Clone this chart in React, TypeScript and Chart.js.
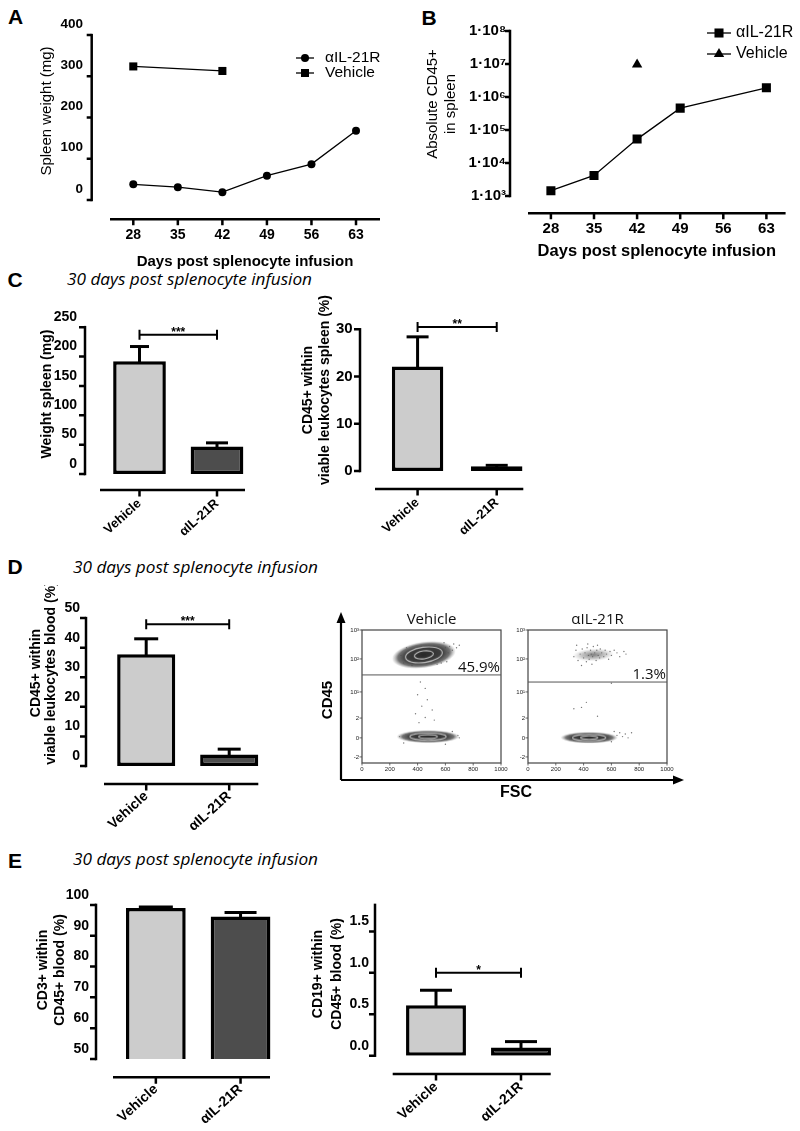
import React, { useEffect, useRef } from 'react';
import { Chart, registerables } from 'chart.js';

Chart.register(...registerables);

const ARIAL = '"Liberation Sans", Arial, Helvetica, sans-serif';
const MYRIAD = '"Open Sans", "Noto Sans", sans-serif';
Chart.defaults.font.family = ARIAL;
Chart.defaults.color = '#000';

// ------------------------------ DATA ------------------------------
const GROUPS = ['Vehicle', 'αIL-21R'];

// Panel A – spleen weight over time
const DAY_TICKS = [28, 35, 42, 49, 56, 63];
const A_DAYS_AIL = [28, 35, 42, 49, 56, 63];
const A_AIL = [38, 31, 19, 59, 87, 168];
const A_DAYS_VEH = [28, 42];
const A_VEH = [324, 313];

// Panel B – absolute CD45+ in spleen (log)
const B_DAYS_AIL = [28, 35, 42, 49, 63];
const B_AIL = [1.45e3, 4.2e3, 5.3e4, 4.6e5, 1.9e6];
const B_DAYS_VEH = [42];
const B_VEH = [9.6e6];
const B_TICKS = [1e3, 1e4, 1e5, 1e6, 1e7, 1e8];
const SUP: Record<number, string> = { 3: '³', 4: '⁴', 5: '⁵', 6: '⁶', 7: '⁷', 8: '⁸' };

// Panel C
const C_WEIGHT = [192, 47];
const C_WEIGHT_SEM = [25, 6];
const C_CD45 = [22.1, 1.0];
const C_CD45_SEM = [6.3, 0.2];

// Panel D
const D_CD45 = [37.8, 3.9];
const D_CD45_SEM = [5.2, 1.8];

// Panel E
const E_CD3 = [99.0, 96.2];
const E_CD3_SEM = [0.3, 1.3];
const E_CD19 = [0.61, 0.1];
const E_CD19_SEM = [0.18, 0.07];
const E_CD19_TICKS = [0, 0.5, 1.0, 1.5];

// Flow cytometry plots (FSC vs CD45)
const FLOW_X_TICKS = [0, 200, 400, 600, 800, 1000];
const FLOW_Y_LABELS = ['-2', '0', '2', '10¹', '10²', '10³'];
const FLOW_Y_POS = [0, 0.75, 1.53, 2.56, 3.86, 5.0];
const VEH_GATE = 3.23;
const AIL_GATE = 2.95;
const VEH_PCT = '45.9%';
const AIL_PCT = '1.3%';
const VEH_POP_FSC = [445, 475];
const VEH_POP_CD45 = [4.02, 0.8];
const VEH_POP_SPREAD_FSC = [230, 225];
const VEH_POP_SPREAD_CD45 = [0.52, 0.25];
const AIL_POP_FSC = [470, 440];
const AIL_POP_CD45 = [4.02, 0.76];
const AIL_POP_SPREAD_FSC = [150, 205];
const AIL_POP_SPREAD_CD45 = [0.25, 0.22];
const VEH_EV_FSC = [420, 455, 400, 470, 430, 505, 385, 455, 520, 410, 600, 630, 650, 660, 680, 620, 590, 700, 570, 610, 540, 300, 320, 280, 360, 270, 690, 700, 650, 300, 600];
const VEH_EV_CD45 = [2.95, 2.7, 2.45, 2.25, 2.0, 1.85, 1.7, 1.55, 1.45, 1.35, 4.3, 4.35, 4.2, 4.45, 4.3, 4.1, 4.5, 4.4, 3.7, 3.75, 3.65, 3.7, 4.3, 4.0, 3.6, 0.8, 0.85, 0.75, 1.0, 0.55, 0.5];
const AIL_EV_FSC = [330, 345, 360, 375, 390, 400, 410, 420, 425, 435, 440, 450, 455, 465, 470, 480, 490, 495, 505, 515, 520, 530, 545, 555, 565, 580, 590, 600, 620, 640, 660, 690, 705, 385, 460, 350, 430, 500, 600, 330, 385, 420, 500, 640, 660, 680, 700, 720, 745, 620, 600];
const AIL_EV_CD45 = [3.95, 4.2, 3.8, 4.05, 4.25, 3.9, 4.1, 3.75, 4.3, 4.0, 3.85, 4.2, 4.05, 3.95, 4.35, 4.1, 3.8, 4.2, 4.0, 3.9, 4.25, 4.1, 3.95, 4.2, 4.05, 3.85, 4.15, 4.0, 4.2, 4.1, 3.95, 4.15, 4.05, 3.6, 3.65, 4.4, 4.45, 4.4, 2.9, 1.9, 1.95, 2.15, 1.6, 0.85, 0.95, 0.8, 0.9, 0.75, 0.95, 1.0, 0.6];

// ------------------------------ STYLE ------------------------------
const LIGHT = '#cccccc';
const DARK = '#4d4d4d';
const VEH_POP_TILT = [-8, 0];
const VEH_POP_DENSE = [true, true];
const AIL_POP_TILT = [-3, 0];
const AIL_POP_DENSE = [false, true];

type Box = { x: number; y: number; w: number; h: number };
type Area = { l: number; t: number; r: number; b: number };

function frame(box: Box, area: Area) {
  return {
    padding: { left: 0, top: area.t - box.y, right: box.x + box.w - area.r, bottom: 0 },
    yw: area.l - box.x,
    xh: box.y + box.h - area.b,
  };
}

function drawMarker(ctx: CanvasRenderingContext2D, style: string, x: number, y: number, r: number) {
  ctx.beginPath();
  if (style === 'circle') ctx.arc(x, y, r, 0, Math.PI * 2);
  else if (style === 'rect') {
    const s = r * Math.SQRT1_2;
    ctx.rect(x - s, y - s, 2 * s, 2 * s);
  } else if (style === 'triangle') {
    ctx.moveTo(x, y - r);
    ctx.lineTo(x + r * Math.sin((2 * Math.PI) / 3), y - r * Math.cos((2 * Math.PI) / 3));
    ctx.lineTo(x + r * Math.sin((4 * Math.PI) / 3), y - r * Math.cos((4 * Math.PI) / 3));
    ctx.closePath();
  }
  ctx.fill();
}

const blobCache = new Map<string, HTMLCanvasElement>();
function blobCanvas(w: number, h: number, tilt: number, dense: boolean) {
  const key = `${w.toFixed(1)}_${h.toFixed(1)}_${tilt}_${dense}`;
  const hit = blobCache.get(key);
  if (hit) return hit;
  const R = Math.ceil(Math.max(w, h) / 2) + 3;
  const c = document.createElement('canvas');
  c.width = 2 * R;
  c.height = 2 * R;
  const g = c.getContext('2d')!;
  g.translate(R, R);
  g.rotate((tilt * Math.PI) / 180);
  const a = w / 2;
  const b = h / 2;
  g.save();
  g.scale(1, b / a);
  const grad = g.createRadialGradient(0, 0, 0, 0, 0, a);
  if (dense) {
    grad.addColorStop(0, 'rgba(40,40,40,1)');
    grad.addColorStop(0.6, 'rgba(58,58,58,0.97)');
    grad.addColorStop(0.82, 'rgba(90,90,90,0.85)');
    grad.addColorStop(1, 'rgba(150,150,150,0.05)');
  } else {
    grad.addColorStop(0, 'rgba(80,80,80,0.75)');
    grad.addColorStop(0.6, 'rgba(120,120,120,0.4)');
    grad.addColorStop(1, 'rgba(170,170,170,0)');
  }
  g.fillStyle = grad;
  g.beginPath();
  g.arc(0, 0, a, 0, Math.PI * 2);
  g.fill();
  g.restore();
  if (dense) {
    g.strokeStyle = 'rgba(205,205,205,0.9)';
    g.lineWidth = 1.1;
    g.beginPath();
    g.ellipse(0, 0, a * 0.58, b * 0.58, 0, 0, Math.PI * 2);
    g.stroke();
    g.beginPath();
    g.ellipse(0, 0, a * 0.3, b * 0.3, 0, 0, Math.PI * 2);
    g.stroke();
  }
  blobCache.set(key, c);
  return c;
}

function drawRotated(ctx: CanvasRenderingContext2D, lines: string[], xs: number[], y: number, font: string) {
  ctx.save();
  ctx.font = font;
  ctx.fillStyle = '#000';
  ctx.textAlign = 'center';
  ctx.textBaseline = 'middle';
  lines.forEach((ln, i) => {
    ctx.save();
    ctx.translate(xs[i], y);
    ctx.rotate(-Math.PI / 2);
    ctx.fillText(ln, 0, 0);
    ctx.restore();
  });
  ctx.restore();
}

// --------------------------- PLUGIN ---------------------------
const prism = {
  id: 'prism',
  afterDatasetsDraw(chart: any, _a: any, o: any) {
    if (!o || !o.origin) return;
    const ctx: CanvasRenderingContext2D = chart.ctx;
    const ys = chart.scales.y;
    const xs = chart.scales.x;
    ctx.save();
    ctx.strokeStyle = '#000';
    ctx.fillStyle = '#000';
    if (o.errors) {
      const meta = chart.getDatasetMeta(0);
      const vals = chart.data.datasets[0].data;
      meta.data.forEach((el: any, i: number) => {
        const top = ys.getPixelForValue(vals[i] + o.errors.sem[i]);
        const base = ys.getPixelForValue(vals[i]);
        ctx.lineWidth = o.errors.lw;
        ctx.beginPath();
        ctx.moveTo(el.x, base + 1);
        ctx.lineTo(el.x, top);
        ctx.stroke();
        const hw = o.errors.caps[i] / 2;
        ctx.beginPath();
        ctx.moveTo(el.x - hw, top);
        ctx.lineTo(el.x + hw, top);
        ctx.stroke();
      });
    }
    if (o.bracket) {
      const B = o.bracket;
      const x1 = xs.getPixelForTick(0);
      const x2 = xs.getPixelForTick(1);
      const y = ys.getPixelForValue(B.value);
      ctx.lineWidth = 2;
      ctx.beginPath();
      ctx.moveTo(x1, y);
      ctx.lineTo(x2, y);
      ctx.moveTo(x1, y - 5);
      ctx.lineTo(x1, y + 5);
      ctx.moveTo(x2, y - 5);
      ctx.lineTo(x2, y + 5);
      ctx.stroke();
      ctx.font = `bold 12px ${ARIAL}`;
      ctx.textAlign = 'center';
      ctx.textBaseline = 'alphabetic';
      ctx.fillText(B.text, (x1 + x2) / 2, y + 1);
    }
    ctx.restore();
  },
  afterDraw(chart: any, _a: any, o: any) {
    if (!o || !o.origin) return;
    const [ox, oy] = o.origin;
    const ctx: CanvasRenderingContext2D = chart.ctx;
    const { left, right, top, bottom } = chart.chartArea;
    const xs = chart.scales.x;
    const ys = chart.scales.y;
    ctx.save();
    ctx.strokeStyle = '#000';
    ctx.fillStyle = '#000';
    if (o.yAxis) {
      const A = o.yAxis;
      const x = left - A.gap;
      const yb = ys.getPixelForValue(ys.min);
      const yt = ys.getPixelForValue(ys.max);
      ctx.lineWidth = A.lw;
      ctx.beginPath();
      ctx.moveTo(x, yb + A.lw / 2);
      ctx.lineTo(x, yt - A.lw / 2);
      ctx.stroke();
      ctx.beginPath();
      ys.ticks.forEach((t: any) => {
        const y = ys.getPixelForValue(t.value);
        ctx.moveTo(x, y);
        ctx.lineTo(x - A.tick, y);
      });
      ctx.stroke();
    }
    if (o.xAxis) {
      const A = o.xAxis;
      const y = bottom + A.gap;
      ctx.lineWidth = A.lw;
      ctx.beginPath();
      ctx.moveTo(left + A.from, y);
      ctx.lineTo(right + A.to, y);
      ctx.stroke();
      ctx.beginPath();
      xs.ticks.forEach((_t: any, i: number) => {
        const x = xs.getPixelForTick(i);
        ctx.moveTo(x, y);
        ctx.lineTo(x, y + A.tick);
      });
      ctx.stroke();
    }
    if (o.yTitle) {
      const T = o.yTitle;
      drawRotated(ctx, T.lines, T.xs.map((v: number) => v - ox), T.y - oy, T.font);
    }
    if (o.legend) {
      const L = o.legend;
      chart.data.datasets.forEach((ds: any, i: number) => {
        const y = L.ys[i] - oy;
        ctx.lineWidth = ds.borderWidth;
        ctx.beginPath();
        ctx.moveTo(L.x1 - ox, y);
        ctx.lineTo(L.x2 - ox, y);
        ctx.stroke();
        drawMarker(ctx, ds.pointStyle, L.mx - ox, y, ds.pointRadius);
        ctx.font = L.font;
        ctx.textAlign = 'left';
        ctx.textBaseline = 'middle';
        ctx.fillText(ds.label, L.tx - ox, y);
      });
    }
    if (o.flow) {
      const F = o.flow;
      ctx.strokeStyle = '#444';
      ctx.lineWidth = 1.2;
      ctx.strokeRect(left, top, right - left, bottom - top);
      ctx.lineWidth = 0.8;
      ctx.beginPath();
      xs.ticks.forEach((t: any) => {
        const x = xs.getPixelForValue(t.value);
        ctx.moveTo(x, bottom);
        ctx.lineTo(x, bottom + 2.5);
      });
      ys.ticks.forEach((t: any) => {
        const y = ys.getPixelForValue(t.value);
        ctx.moveTo(left, y);
        ctx.lineTo(left - 2.5, y);
      });
      ctx.stroke();
      const gy = ys.getPixelForValue(F.gate);
      ctx.strokeStyle = '#555';
      ctx.lineWidth = 1;
      ctx.beginPath();
      ctx.moveTo(left, gy);
      ctx.lineTo(right, gy);
      ctx.stroke();
      ctx.fillStyle = '#111';
      ctx.font = `15px ${MYRIAD}`;
      ctx.textAlign = 'right';
      ctx.textBaseline = 'alphabetic';
      ctx.fillText(F.pct, right - 1, gy - 3);
      ctx.font = `15px ${MYRIAD}`;
      ctx.textAlign = 'center';
      ctx.textBaseline = 'middle';
      ctx.fillText(F.title, (left + right) / 2, top - 10);
      if (F.arrows) {
        const AR = F.arrows;
        ctx.strokeStyle = '#000';
        ctx.fillStyle = '#000';
        ctx.lineWidth = 2.2;
        const ax = AR.x - ox;
        const ay = AR.y - oy;
        ctx.beginPath();
        ctx.moveTo(ax, ay);
        ctx.lineTo(ax, AR.top - oy + 8);
        ctx.moveTo(ax, ay);
        ctx.lineTo(AR.right - ox - 8, ay);
        ctx.stroke();
        ctx.beginPath();
        ctx.moveTo(ax, AR.top - oy);
        ctx.lineTo(ax - 4.5, AR.top - oy + 11);
        ctx.lineTo(ax + 4.5, AR.top - oy + 11);
        ctx.closePath();
        ctx.fill();
        ctx.beginPath();
        ctx.moveTo(AR.right - ox, ay);
        ctx.lineTo(AR.right - ox - 11, ay - 4.5);
        ctx.lineTo(AR.right - ox - 11, ay + 4.5);
        ctx.closePath();
        ctx.fill();
        drawRotated(ctx, ['CD45'], [AR.yLabel[0] - ox], AR.yLabel[1] - oy, `bold 15px ${ARIAL}`);
        ctx.font = `bold 16px ${ARIAL}`;
        ctx.textAlign = 'center';
        ctx.textBaseline = 'middle';
        ctx.fillText('FSC', AR.xLabel[0] - ox, AR.xLabel[1] - oy);
      }
    }
    ctx.restore();
  },
};
Chart.register(prism as any);

const hiddenGrid = () => ({ display: false, drawTicks: false });

// --------------------------- PANELS ---------------------------
const A_BOX: Box = { x: 0, y: 0, w: 400, h: 272 };
const A_AREA: Area = { l: 110, t: 28.3, r: 380, b: 200 };
const B_BOX: Box = { x: 405, y: 0, w: 395, h: 265 };
const B_AREA: Area = { l: 528, t: 28, r: 787, b: 196 };

function lineDataset(label: string, days: number[], vals: number[], style: string, r: number) {
  return {
    label,
    data: days.map((d, i) => ({ x: d, y: vals[i] })),
    showLine: true,
    borderColor: '#000',
    backgroundColor: '#000',
    borderWidth: 1.3,
    pointStyle: style,
    pointRadius: r,
    pointBorderWidth: 0,
    pointBackgroundColor: '#000',
  };
}

function makeA() {
  const f = frame(A_BOX, A_AREA);
  return {
    type: 'scatter',
    data: {
      datasets: [
        lineDataset('αIL-21R', A_DAYS_AIL, A_AIL, 'circle', 4),
        lineDataset('Vehicle', A_DAYS_VEH, A_VEH, 'rect', 5.7),
      ],
    },
    options: {
      responsive: false,
      animation: false,
      events: [],
      layout: { padding: f.padding },
      plugins: {
        legend: { display: false },
        tooltip: { enabled: false },
        prism: {
          origin: [A_BOX.x, A_BOX.y],
          yAxis: { gap: 18.3, lw: 2.5, tick: 5 },
          xAxis: { gap: 19.3, lw: 2.5, tick: 6, from: 0, to: 0 },
          yTitle: { lines: ['Spleen weight (mg)'], xs: [47], y: 111, font: `15px ${ARIAL}` },
          legend: { ys: [58, 73], x1: 296, x2: 314, mx: 305, tx: 325, font: `15.5px ${ARIAL}` },
        },
      },
      scales: {
        x: {
          type: 'linear',
          min: 24.34,
          max: 66.77,
          grid: hiddenGrid(),
          border: { display: false },
          afterBuildTicks: (s: any) => {
            s.ticks = DAY_TICKS.map((v) => ({ value: v }));
          },
          ticks: { font: { size: 14, weight: 'bold' }, color: '#000', padding: 26.6, callback: (v: any) => String(v) },
          title: {
            display: true,
            text: 'Days post splenocyte infusion',
            font: { size: 15, weight: 'bold' },
            color: '#000',
            padding: { top: 0, bottom: 1 },
          },
          afterFit: (s: any) => {
            s.height = f.xh;
          },
        },
        y: {
          type: 'linear',
          min: 0,
          max: 400,
          grid: hiddenGrid(),
          border: { display: false },
          ticks: { stepSize: 100, font: { size: 13.5, weight: 'bold' }, color: '#000', padding: 27, labelOffset: -11 },
          afterFit: (s: any) => {
            s.width = f.yw;
          },
        },
      },
    },
  };
}

function makeB() {
  const f = frame(B_BOX, B_AREA);
  return {
    type: 'scatter',
    data: {
      datasets: [
        lineDataset('αIL-21R', B_DAYS_AIL, B_AIL, 'rect', 6.4),
        lineDataset('Vehicle', B_DAYS_VEH, B_VEH, 'triangle', 6),
      ],
    },
    options: {
      responsive: false,
      animation: false,
      events: [],
      layout: { padding: f.padding },
      plugins: {
        legend: { display: false },
        tooltip: { enabled: false },
        prism: {
          origin: [B_BOX.x, B_BOX.y],
          yAxis: { gap: 18, lw: 2.5, tick: 5 },
          xAxis: { gap: 17.3, lw: 2.5, tick: 6, from: 0, to: 0 },
          yTitle: { lines: ['Absolute CD45+', 'in spleen'], xs: [433, 451], y: 104, font: `15px ${ARIAL}` },
          legend: { ys: [33, 54], x1: 707, x2: 731, mx: 719, tx: 736, font: `16px ${ARIAL}` },
        },
      },
      scales: {
        x: {
          type: 'linear',
          min: 24.28,
          max: 66.12,
          grid: hiddenGrid(),
          border: { display: false },
          afterBuildTicks: (s: any) => {
            s.ticks = DAY_TICKS.map((v) => ({ value: v }));
          },
          ticks: { font: { size: 15, weight: 'bold' }, color: '#000', padding: 24.3, callback: (v: any) => String(v) },
          title: {
            display: true,
            text: 'Days post splenocyte infusion',
            font: { size: 16.5, weight: 'bold' },
            color: '#000',
            padding: { top: 0, bottom: 3.4 },
          },
          afterFit: (s: any) => {
            s.height = f.xh;
          },
        },
        y: {
          type: 'logarithmic',
          min: 1e3,
          max: 1e8,
          grid: hiddenGrid(),
          border: { display: false },
          afterBuildTicks: (s: any) => {
            s.ticks = B_TICKS.map((v) => ({ value: v }));
          },
          ticks: {
            font: { size: 15, weight: 'bold' },
            color: '#000',
            padding: 22,
            callback: (v: any) => '1·10' + SUP[Math.round(Math.log10(Number(v)))],
          },
          afterFit: (s: any) => {
            s.width = f.yw;
          },
        },
      },
    },
  };
}

type BarSpec = {
  box: Box;
  area: Area;
  values: number[];
  sem: number[];
  yMin: number;
  yMax: number;
  yStep?: number;
  yTicks?: number[];
  yDecimals?: number;
  yFont: number;
  yPad: number;
  yLabelOffset: number;
  xFont: number;
  xPad: number;
  ratio: number;
  title: { lines: string[]; xs: number[]; y: number; size: number };
  caps: number[];
  bracket?: { value: number; text: string };
  yGap: number;
  xGap: number;
  xFrom: number;
  xTo: number;
};

function makeBar(p: BarSpec) {
  const f = frame(p.box, p.area);
  return {
    type: 'bar',
    data: {
      labels: GROUPS,
      datasets: [
        {
          data: p.values,
          backgroundColor: [LIGHT, DARK],
          borderColor: '#000',
          borderWidth: 3.5,
          borderSkipped: false,
          barPercentage: p.ratio,
          categoryPercentage: 1,
        },
      ],
    },
    options: {
      responsive: false,
      animation: false,
      events: [],
      layout: { padding: f.padding },
      plugins: {
        legend: { display: false },
        tooltip: { enabled: false },
        prism: {
          origin: [p.box.x, p.box.y],
          yAxis: { gap: p.yGap, lw: 2.5, tick: 6 },
          xAxis: { gap: p.xGap, lw: 2.5, tick: 6.5, from: p.xFrom, to: p.xTo },
          yTitle: { lines: p.title.lines, xs: p.title.xs, y: p.title.y, font: `bold ${p.title.size}px ${ARIAL}` },
          errors: { sem: p.sem, caps: p.caps, lw: 3 },
          bracket: p.bracket,
        },
      },
      scales: {
        x: {
          type: 'category',
          offset: true,
          grid: hiddenGrid(),
          border: { display: false },
          ticks: {
            font: { size: p.xFont, weight: 'bold' },
            color: '#000',
            minRotation: 42,
            maxRotation: 42,
            padding: p.xPad,
            autoSkip: false,
          },
          afterFit: (s: any) => {
            s.height = f.xh;
          },
        },
        y: {
          type: 'linear',
          min: p.yMin,
          max: p.yMax,
          grid: hiddenGrid(),
          border: { display: false },
          afterBuildTicks: p.yTicks
            ? (s: any) => {
                s.ticks = p.yTicks!.map((v) => ({ value: v }));
              }
            : undefined,
          ticks: {
            stepSize: p.yStep,
            font: { size: p.yFont, weight: 'bold' },
            color: '#000',
            padding: p.yPad,
            labelOffset: p.yLabelOffset,
            callback: (v: any) => (p.yDecimals ? Number(v).toFixed(p.yDecimals) : String(v)),
          },
          afterFit: (s: any) => {
            s.width = f.yw;
          },
        },
      },
    },
  };
}

const C1: BarSpec = {
  box: { x: 0, y: 295, w: 270, h: 255 },
  area: { l: 100.75, t: 322.7, r: 255.75, b: 474 },
  values: C_WEIGHT,
  sem: C_WEIGHT_SEM,
  yMin: 0,
  yMax: 250,
  yStep: 50,
  yFont: 14,
  yPad: 23.75,
  yLabelOffset: -10,
  xFont: 13,
  xPad: 22,
  ratio: 0.68,
  title: { lines: ['Weight spleen (mg)'], xs: [47], y: 394, size: 14 },
  caps: [19, 22],
  bracket: { value: 237, text: '***' },
  yGap: 15.75,
  xGap: 16,
  xFrom: -0.75,
  xTo: -10.75,
};

const C2: BarSpec = {
  box: { x: 270, y: 295, w: 280, h: 255 },
  area: { l: 378, t: 317.7, r: 536.3, b: 471 },
  values: C_CD45,
  sem: C_CD45_SEM,
  yMin: 0,
  yMax: 30,
  yStep: 10,
  yFont: 15,
  yPad: 25.3,
  yLabelOffset: 0,
  xFont: 13,
  xPad: 24,
  ratio: 0.65,
  title: { lines: ['CD45+ within', 'viable leukocytes spleen (%)'], xs: [308, 325], y: 390, size: 14 },
  caps: [22, 22],
  bracket: { value: 30.5, text: '**' },
  yGap: 18,
  xGap: 18,
  xFrom: -3,
  xTo: -13,
};

const D1: BarSpec = {
  box: { x: 0, y: 585, w: 290, h: 250 },
  area: { l: 104.7, t: 605, r: 270.7, b: 766 },
  values: D_CD45,
  sem: D_CD45_SEM,
  yMin: 0,
  yMax: 50,
  yStep: 10,
  yFont: 14,
  yPad: 24.7,
  yLabelOffset: -10,
  xFont: 14,
  xPad: 22,
  ratio: 0.7,
  title: { lines: ['CD45+ within', 'viable leukocytes blood (%)'], xs: [36, 51], y: 673, size: 14 },
  caps: [24, 23],
  bracket: { value: 47.9, text: '***' },
  yGap: 18.7,
  xGap: 18,
  xFrom: -0.7,
  xTo: -12.4,
};

const E1: BarSpec = {
  box: { x: 0, y: 872, w: 300, h: 259 },
  area: { l: 113.5, t: 897.7, r: 282.9, b: 1059 },
  values: E_CD3,
  sem: E_CD3_SEM,
  yMin: 50,
  yMax: 100,
  yStep: 10,
  yFont: 14,
  yPad: 24.5,
  yLabelOffset: -10,
  xFont: 14,
  xPad: 22,
  ratio: 0.705,
  title: { lines: ['CD3+ within', 'CD45+ blood (%)'], xs: [43, 60], y: 970, size: 14 },
  caps: [34, 32],
  yGap: 17.5,
  xGap: 18.3,
  xFrom: -0.5,
  xTo: -12.9,
};

const E2: BarSpec = {
  box: { x: 300, y: 872, w: 290, h: 259 },
  area: { l: 393.5, t: 890, r: 563.5, b: 1055.7 },
  values: E_CD19,
  sem: E_CD19_SEM,
  yMin: 0,
  yMax: 1.82,
  yTicks: E_CD19_TICKS,
  yDecimals: 1,
  yFont: 14,
  yPad: 24.5,
  yLabelOffset: -10,
  xFont: 14,
  xPad: 23,
  ratio: 0.705,
  title: { lines: ['CD19+ within', 'CD45+ blood (%)'], xs: [318, 337], y: 974, size: 14 },
  caps: [32, 32],
  bracket: { value: 1.0, text: '*' },
  yGap: 18.5,
  xGap: 18.3,
  xFrom: -0.8,
  xTo: -12.8,
};

const FV_BOX: Box = { x: 320, y: 595, w: 380, h: 210 };
const FV_AREA: Area = { l: 362, t: 630, r: 501, b: 763 };
const FA_BOX: Box = { x: 505, y: 595, w: 180, h: 210 };
const FA_AREA: Area = { l: 528, t: 630, r: 667, b: 763 };

function makeFlow(isV: boolean) {
  const box = isV ? FV_BOX : FA_BOX;
  const area = isV ? FV_AREA : FA_AREA;
  const f = frame(box, area);
  const pf = isV ? VEH_POP_FSC : AIL_POP_FSC;
  const pc = isV ? VEH_POP_CD45 : AIL_POP_CD45;
  const sf = isV ? VEH_POP_SPREAD_FSC : AIL_POP_SPREAD_FSC;
  const sc = isV ? VEH_POP_SPREAD_CD45 : AIL_POP_SPREAD_CD45;
  const tilt = isV ? VEH_POP_TILT : AIL_POP_TILT;
  const dense = isV ? VEH_POP_DENSE : AIL_POP_DENSE;
  const ef = isV ? VEH_EV_FSC : AIL_EV_FSC;
  const ec = isV ? VEH_EV_CD45 : AIL_EV_CD45;
  return {
    type: 'scatter',
    data: {
      datasets: [
        {
          label: 'populations',
          data: pf.map((x, i) => ({ x, y: pc[i] })),
          pointRadius: 3,
          pointStyle: (c: any) => {
            const ch = c.chart;
            const xs = ch.scales && ch.scales.x;
            const ys = ch.scales && ch.scales.y;
            const i = c.dataIndex;
            if (!xs || !ys || i == null || !xs.width) return 'circle';
            const w = Math.abs(xs.getPixelForValue(2 * sf[i]) - xs.getPixelForValue(0));
            const h = Math.abs(ys.getPixelForValue(2 * sc[i]) - ys.getPixelForValue(0));
            return blobCanvas(w, h, tilt[i], dense[i]);
          },
        },
        {
          label: 'events',
          data: ef.map((x, i) => ({ x, y: ec[i] })),
          pointRadius: 0.7,
          pointBackgroundColor: '#777',
          pointBorderWidth: 0,
        },
      ],
    },
    options: {
      responsive: false,
      animation: false,
      events: [],
      layout: { padding: f.padding },
      plugins: {
        legend: { display: false },
        tooltip: { enabled: false },
        prism: {
          origin: [box.x, box.y],
          flow: {
            gate: isV ? VEH_GATE : AIL_GATE,
            pct: isV ? VEH_PCT : AIL_PCT,
            title: isV ? 'Vehicle' : 'αIL-21R',
            arrows: isV ? { x: 341, y: 780, top: 612, right: 684, yLabel: [328, 700], xLabel: [516, 793] } : null,
          },
        },
      },
      scales: {
        x: {
          type: 'linear',
          min: 0,
          max: 1000,
          grid: hiddenGrid(),
          border: { display: false },
          afterBuildTicks: (s: any) => {
            s.ticks = FLOW_X_TICKS.map((v) => ({ value: v }));
          },
          ticks: { font: { size: 6 }, color: '#222', padding: 3, callback: (v: any) => String(v) },
          afterFit: (s: any) => {
            s.height = f.xh;
          },
        },
        y: {
          type: 'linear',
          min: -0.24,
          max: 5,
          grid: hiddenGrid(),
          border: { display: false },
          afterBuildTicks: (s: any) => {
            s.ticks = FLOW_Y_POS.map((v) => ({ value: v }));
          },
          ticks: { font: { size: 6 }, color: '#222', padding: 3, callback: (_v: any, i: number) => FLOW_Y_LABELS[i] },
          afterFit: (s: any) => {
            s.width = f.yw;
          },
        },
      },
    },
  };
}

// --------------------------- REACT ---------------------------
function ChartBox({ box, make }: { box: Box; make: () => any }) {
  const ref = useRef<HTMLCanvasElement>(null);
  useEffect(() => {
    const chart = new Chart(ref.current as HTMLCanvasElement, make());
    return () => chart.destroy();
  }, []);
  return (
    <canvas
      ref={ref}
      width={box.w}
      height={box.h}
      style={{ position: 'absolute', left: box.x, top: box.y, width: box.w, height: box.h }}
    />
  );
}

function Letter({ ch, x, y }: { ch: string; x: number; y: number }) {
  return (
    <div
      style={{
        position: 'absolute',
        left: x,
        top: y - 11.7,
        fontFamily: ARIAL,
        fontWeight: 'bold',
        fontSize: 21,
        lineHeight: '24px',
        color: '#000',
      }}
    >
      {ch}
    </div>
  );
}

function Subtitle({ x, y }: { x: number; y: number }) {
  return (
    <div
      style={{
        position: 'absolute',
        left: x,
        top: y - 11.5,
        fontFamily: MYRIAD,
        fontStyle: 'italic',
        fontSize: 17.2,
        lineHeight: '22px',
        whiteSpace: 'nowrap',
        color: '#000',
      }}
    >
      30 days post splenocyte infusion
    </div>
  );
}

export default function App() {
  return (
    <div
      style={{
        position: 'absolute',
        left: 0,
        top: 0,
        width: 800,
        height: 1131,
        background: '#fff',
        overflow: 'hidden',
      }}
    >
      <Letter ch="A" x={8} y={17} />
      <Letter ch="B" x={421.5} y={18} />
      <Letter ch="C" x={7.5} y={280} />
      <Letter ch="D" x={7.5} y={567} />
      <Letter ch="E" x={8} y={861} />
      <Subtitle x={67} y={279} />
      <Subtitle x={73} y={567} />
      <Subtitle x={73} y={859} />
      <ChartBox box={A_BOX} make={makeA} />
      <ChartBox box={B_BOX} make={makeB} />
      <ChartBox box={C1.box} make={() => makeBar(C1)} />
      <ChartBox box={C2.box} make={() => makeBar(C2)} />
      <ChartBox box={D1.box} make={() => makeBar(D1)} />
      <ChartBox box={FV_BOX} make={() => makeFlow(true)} />
      <ChartBox box={FA_BOX} make={() => makeFlow(false)} />
      <ChartBox box={E1.box} make={() => makeBar(E1)} />
      <ChartBox box={E2.box} make={() => makeBar(E2)} />
    </div>
  );
}
